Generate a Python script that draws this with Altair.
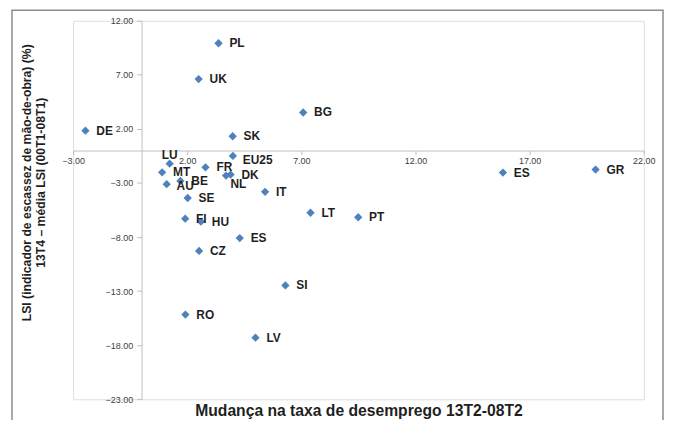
import altair as alt
import pandas as pd

# ---- data ----
countries = ["PL", "UK", "BG", "DE", "SK", "EU25", "LU", "FR", "MT", "DK", "NL", "BE", "AU",
             "IT", "SE", "LT", "PT", "FI", "HU", "ES", "CZ", "SI", "RO", "LV", "ES", "GR"]
unemp_change = [3.37, 2.50, 7.08, -2.46, 3.99, 4.00, 1.23, 2.80, 0.90, 3.90, 3.70, 1.70, 1.10,
                5.41, 2.02, 7.40, 9.49, 1.91, 2.60, 4.30, 2.52, 6.30, 1.92, 4.99, 15.83, 19.89]
lsi_change = [9.92, 6.61, 3.52, 1.84, 1.32, -0.50, -1.21, -1.55, -2.01, -2.22, -2.31, -2.81, -3.11,
              -3.82, -4.39, -5.75, -6.17, -6.30, -6.58, -8.09, -9.28, -12.47, -15.17, -17.30, -2.04, -1.76]
x_ticks = [-3, 2, 7, 12, 17, 22]
y_ticks = [12, 7, 2, -3, -8, -13, -18, -23]
x_title = "Mudança na taxa de desemprego 13T2-08T2"
y_title = ["LSI (indicador de escassez de mão-de-obra) (%)", "13T4 – média LSI (00T1-08T1)"]

df = pd.DataFrame({"country": countries, "x": unemp_change, "y": lsi_change})

W, H = 575, 381.4
PAD_L, PAD_T = 65.6, 11.3
TOTAL_W, TOTAL_H = 662, 412
x0 = W * 3 / 25          # pixel of x = 0 inside plot
y0 = H * 12 / 35         # pixel of y = 0 inside plot

FONT = "Liberation Sans"
AXIS_COLOR = "#BFBFBF"
LABEL_COLOR = "#404040"
TEXT_COLOR = "#1f1f1f"
BLUE = "#4F81BD"

xs = alt.Scale(domain=[-3, 22], nice=False, zero=False)
ys = alt.Scale(domain=[-23, 12], nice=False, zero=False)

x_axis = alt.Axis(
    values=x_ticks, format=".2f", orient="bottom", offset=-(H - y0),
    domainColor=AXIS_COLOR, tickColor=AXIS_COLOR, tickSize=4, grid=False,
    labelFontSize=9, labelColor=LABEL_COLOR, labelFont=FONT, labelPadding=2,
    labelFlush=False, labelOverlap=False,
    title=x_title, titleFont=FONT, titleFontSize=15.8, titleFontWeight="bold",
    titleColor=TEXT_COLOR, titleX=W / 2, titleY=262, titleAlign="center",
    titleBaseline="middle", titleLimit=1000,
)
y_axis = alt.Axis(
    values=y_ticks, format=".2f", orient="left", offset=-x0,
    domainColor=AXIS_COLOR, tickColor=AXIS_COLOR, tickSize=5, grid=False,
    labelFontSize=9, labelColor=LABEL_COLOR, labelFont=FONT, labelPadding=4,
    labelFlush=False, labelOverlap=False,
    title=y_title, titleFont=FONT, titleFontSize=12.3, titleFontWeight="bold",
    titleColor=TEXT_COLOR, titleAngle=270, titleX=-115.6, titleY=162.7,
    titleAlign="center", titleBaseline="middle", titleLineHeight=14, titleLimit=1000,
)

base = alt.Chart(df)

points = base.mark_point(shape="diamond", filled=True, size=70, color=BLUE, opacity=1).encode(
    x=alt.X("x:Q", scale=xs, axis=x_axis),
    y=alt.Y("y:Q", scale=ys, axis=y_axis),
)

label_style = dict(fontSize=12, fontWeight="bold", font=FONT, color=TEXT_COLOR, baseline="middle")
enc = dict(x=alt.X("x:Q", scale=xs), y=alt.Y("y:Q", scale=ys), text="country:N")

labels_main = base.transform_filter(
    "datum.country != 'LU' && datum.country != 'NL' && datum.country != 'EU25' && datum.country != 'AU'"
).mark_text(align="left", dx=11, **label_style).encode(**enc)

label_lu = base.transform_filter("datum.country == 'LU'").mark_text(
    align="center", dy=-8.5, **label_style).encode(**enc)

label_nl = base.transform_filter("datum.country == 'NL'").mark_text(
    align="left", dx=4.5, dy=9, **label_style).encode(**enc)

label_eu = base.transform_filter("datum.country == 'EU25'").mark_text(
    align="left", dx=10, dy=4, **label_style).encode(**enc)

label_au = base.transform_filter("datum.country == 'AU'").mark_text(
    align="left", dx=10, dy=2, **label_style).encode(**enc)

frame = alt.Chart(pd.DataFrame({"f": [0]})).mark_rect(
    fillOpacity=0, stroke="#8C8C8C", strokeWidth=1.5, clip=False
).encode(
    x=alt.value(12 - 8 - PAD_L), x2=alt.value(668 - 8 - PAD_L),
    y=alt.value(8 - 8 - PAD_T + 0.75), y2=alt.value(H + 60),
)

chart = alt.layer(frame, points, labels_main, label_lu, label_nl, label_eu, label_au).properties(
    width=W, height=H,
    autosize=alt.AutoSizeParams(type="none"),
    padding={"left": PAD_L, "top": PAD_T, "right": TOTAL_W - PAD_L - W, "bottom": TOTAL_H - PAD_T - H},
).configure_view(stroke="transparent").configure(background="white")

chart.save("out.html", embed_options={"renderer": "svg", "actions": False})
